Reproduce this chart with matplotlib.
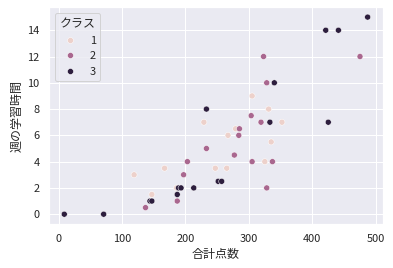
import numpy as np
import pandas as pd
import matplotlib
matplotlib.use("Agg")
import matplotlib.pyplot as plt
import seaborn as sns

# クラス1
x1 = [229, 305, 331, 352, 279, 267, 335, 325, 247, 265, 119, 167, 147, 186]
y1 = [7, 9, 8, 7, 6.5, 6, 5.5, 4, 3.5, 3.5, 3, 3.5, 1.5, 2]
# クラス2
x2 = [323, 475, 328, 303.5, 319, 285, 284, 233, 277, 305, 337, 203, 197, 328, 187, 137]
y2 = [12, 12, 10, 7.5, 7, 6.5, 6, 5, 4.5, 4, 4, 4, 3, 2, 1, 0.5]
# クラス3
x3 = [487, 421, 441, 340, 233, 333, 425, 251.5, 257, 189, 193, 213, 187, 144, 147, 9, 71]
y3 = [15, 14, 14, 10, 8, 7, 7, 2.5, 2.5, 2, 2, 2, 1.5, 1, 1, 0, 0]

df = pd.DataFrame({
    "合計点数": x1 + x2 + x3,
    "週の学習時間": y1 + y2 + y3,
    "クラス": [1] * len(x1) + [2] * len(x2) + [3] * len(x3),
})

sns.set_theme(style="darkgrid")
plt.rcParams['font.family'] = ['Noto Sans CJK JP', 'DejaVu Sans']

fig = plt.figure(figsize=(393 / 72, 268 / 72), dpi=72)
ax = fig.add_axes([0.125, 0.164, 0.849, 0.809])
sns.scatterplot(data=df, x="合計点数", y="週の学習時間", hue="クラス", ax=ax)
ax.set_xticks([0, 100, 200, 300, 400, 500])
ax.set_yticks([0, 2, 4, 6, 8, 10, 12, 14])

fig.savefig("out.png", dpi=72)
